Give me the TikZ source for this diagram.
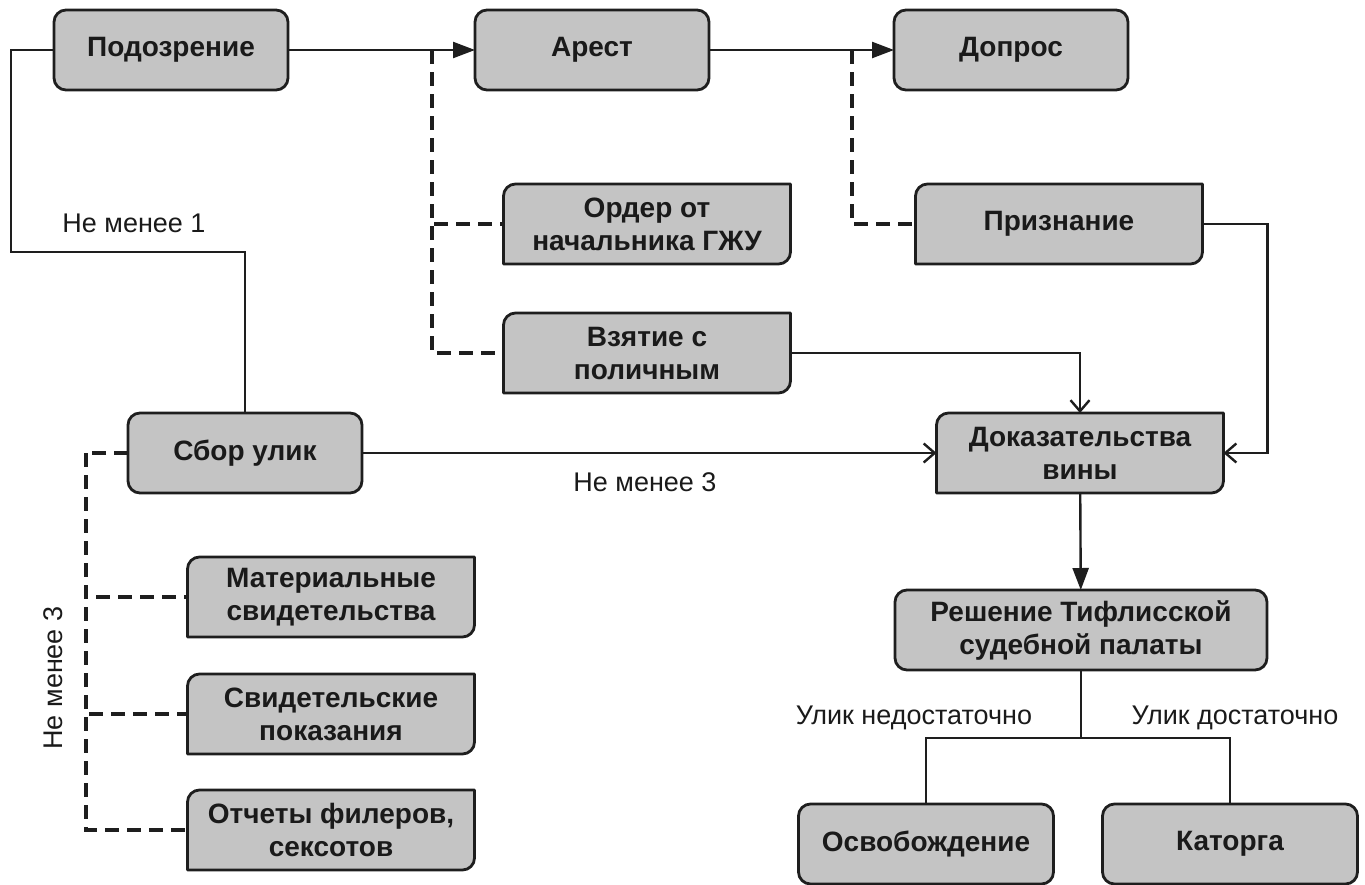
\documentclass[tikz,border=0pt]{standalone}
\usepackage{fontspec}
\setmainfont{Liberation Sans}
\usepackage{tikz}
\usetikzlibrary{arrows.meta,backgrounds}

\definecolor{boxgray}{HTML}{C4C4C4}
\definecolor{edge}{HTML}{1E1E1E}
\definecolor{ink}{HTML}{1A1A1A}

\begin{document}
\begin{tikzpicture}[
    x=0.5pt,
    y=-0.5pt,
    etape/.style={
        rectangle,
        rounded corners=6pt,
        draw=edge,
        fill=boxgray,
        line width=1.4pt,
        minimum width=117pt,
        minimum height=40pt,
        inner sep=2pt,
        outer sep=0pt,
        align=center,
        text=ink,
        font=\bfseries\fontsize{14}{16.5}\selectfont
    },
    piece/.style={
        rectangle,
        minimum width=143.5pt,
        minimum height=40pt,
        inner sep=2pt,
        outer sep=0pt,
        align=center,
        text=ink,
        font=\bfseries\fontsize{14}{16.5}\selectfont
    },
    cadre/.style={
        draw=edge,
        fill=boxgray,
        line width=1.4pt,
        line join=round
    },
    lien/.style={
        draw=edge,
        line width=1.2pt
    },
    fleche/.style={
        lien,
        -{Triangle[length=11pt,width=8pt]}
    },
    flechefine/.style={
        lien,
        -{Straight Barb[length=5.5pt,width=9.5pt]}
    },
    pointille/.style={
        draw=edge,
        line width=1.7pt,
        dash pattern=on 7pt off 4pt
    },
    legende/.style={
        text=ink,
        font=\fontsize{13.5}{15}\selectfont
    }
]

\useasboundingbox (0,0) rectangle (1365,884);

% Main chain
\node[etape] (suspect) at (171,50) {Подозрение};
\node[etape] (arrest) at (592,50) {Арест};
\node[etape] (interrog) at (1011,50) {Допрос};

% Grounds for arrest and interrogation
\node[piece] (order) at (647,224) {Ордер от\\начальника ГЖУ};
\node[piece] (caught) at (647,353) {Взятие с\\поличным};
\node[piece] (confess) at (1059,224) {Признание};

% Evidence
\node[etape] (collect) at (245,453) {Сбор улик};
\node[piece] (proof) at (1080,453) {Доказательства\\вины};
\node[piece] (material) at (331,597) {Материальные\\свидетельства};
\node[piece] (witness) at (331,714) {Свидетельские\\показания};
\node[piece] (report) at (331,830) {Отчеты филеров,\\сексотов};

% Court and outcomes
\node[etape, minimum width=186pt] (verdict) at (1081,630) {Решение Тифлисской\\судебной палаты};
\node[etape, minimum width=127.5pt] (release) at (926,844) {Освобождение};
\node[etape, minimum width=127.5pt] (katorga) at (1230,844) {Каторга};

% Document frames (rounded top left and bottom right)
\begin{scope}[on background layer]
\foreach \n in {order,caught,confess,proof,material,witness,report}{
    \path[cadre]
        ([yshift=-6pt]\n.north west)
        .. controls ([yshift=-2.7pt]\n.north west) and ([xshift=2.7pt]\n.north west) ..
        ([xshift=6pt]\n.north west)
        -- (\n.north east)
        -- ([yshift=6pt]\n.south east)
        .. controls ([yshift=2.7pt]\n.south east) and ([xshift=-2.7pt]\n.south east) ..
        ([xshift=-6pt]\n.south east)
        -- (\n.south west) -- cycle;
}
\end{scope}

% Branch points
\coordinate (tapA) at (432,50);
\coordinate (tapB) at (852,50);
\coordinate (tapC) at (86,453);

% Main transitions
\draw[fleche] (suspect) -- (arrest);
\draw[fleche] (arrest) -- (interrog);

% Dashed conditions
\draw[pointille] (tapA) |- (order.west);
\draw[pointille] (tapA) |- (caught.west);
\draw[pointille] (tapB) |- (confess.west);
\draw[pointille] (collect.west) -- (tapC);
\draw[pointille] (tapC) |- (material.west);
\draw[pointille] (tapC) |- (witness.west);
\draw[pointille] (tapC) |- (report.west);

% Suspicion to evidence collection
\draw[lien] (suspect.west) -| ++(-43,202) -| (collect.north);

% Paths to the proof of guilt
\draw[flechefine] (collect) -- (proof);
\draw[flechefine] (caught.east) -| (proof.north);
\draw[flechefine] (confess.east) -- ++(65,0) |- (proof.east);
\draw[fleche] (proof) -- (verdict);

% Outcomes
\draw[lien] (verdict.south) -- ++(0,68) coordinate (split);
\draw[lien] (split) -| (release.north);
\draw[lien] (split) -| (katorga.north);

% Labels
\node[legende] (minone) at (134,223) {Не менее 1};
\node[legende] (minthree) at (645,482) {Не менее 3};
\node[legende, rotate=90] (minthreeb) at (53,678) {Не менее 3};
\node[legende] (weak) at (914,718) {Улик недостаточно};
\node[legende] (strong) at (1235,718) {Улик достаточно};

\end{tikzpicture}
\end{document}
